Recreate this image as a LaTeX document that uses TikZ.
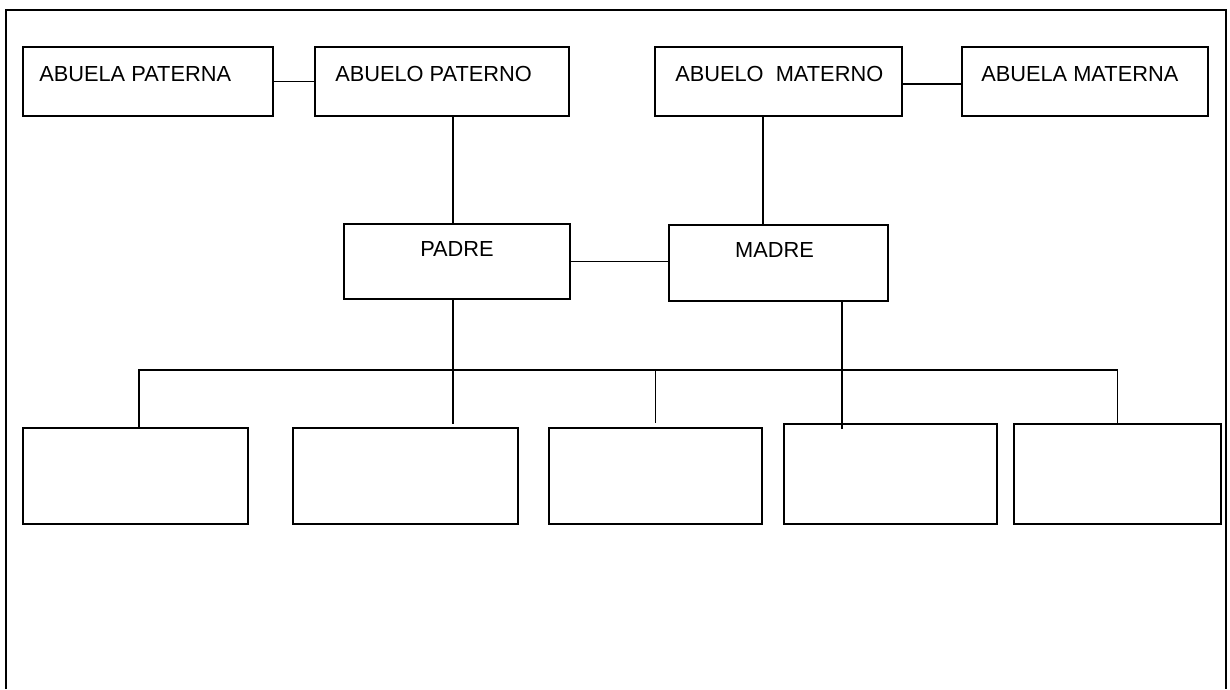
\documentclass[tikz,border=0pt]{standalone}
\usepackage{fontspec}
\setmainfont{Liberation Sans}
\usepackage{tikz}
\usetikzlibrary{positioning}
\tikzset{
    persona/.style = {rectangle, draw=black, line width=1.9pt, minimum width=#1, minimum height=69pt, inner sep=0pt},
    padres/.style = {rectangle, draw=black, line width=1.9pt, minimum width=#1, minimum height=75pt, inner sep=0pt},
    hijo/.style = {rectangle, draw=black, line width=1.9pt, minimum width=#1, minimum height=96pt, inner sep=0pt},
    rotulo/.style = {inner sep=0pt, font=\fontsize{21.8}{26}\selectfont},
    linea/.style = {line width=1.9pt, black},
    marco/.style = {line width=2.4pt, black}
}
\begin{document}
\begin{tikzpicture}[x=1pt,y=-1pt]
\useasboundingbox (0,0) rectangle (1230,689);
\draw[marco] (6,689) |- (1226,10) -- (1226,689);
% abuelos
\node[persona=250pt, label={[rotulo,anchor=base west,xshift=17pt,yshift=-35pt]north west:ABUELA PATERNA}] at (148, 81.5) (abp) {};
\node[persona=254pt, label={[rotulo,anchor=base west,xshift=21pt,yshift=-35pt]north west:ABUELO PATERNO}] at (442, 81.5) (ap) {};
\node[persona=247pt, label={[rotulo,anchor=base west,xshift=21pt,yshift=-35pt]north west:ABUELO\ \ MATERNO}] at (778.5, 81.5) (am) {};
\node[persona=246pt, label={[rotulo,anchor=base west,xshift=20pt,yshift=-35pt]north west:ABUELA MATERNA}] at (1085, 81.5) (abm) {};
% padres
\node[padres=226pt, label={[rotulo,anchor=base,yshift=-33pt]north:PADRE}] at (457, 261.5) (padre) {};
\node[padres=219pt, minimum height=76pt, label={[rotulo,anchor=base,xshift=-4pt,yshift=-33pt]north:MADRE}] at (778.5, 263) (madre) {};
% hijos
\node[hijo=225pt] at (135.5, 476) (h1) {};
\node[hijo=225pt] at (405.5, 476) (h2) {};
\node[hijo=213pt] at (655.5, 476) (h3) {};
\node[hijo=213pt, minimum height=100pt] at (890.5, 474) (h4) {};
\node[hijo=207pt, minimum height=100pt] at (1117.5, 474) (h5) {};
\coordinate (barra) at (0, 370);
%
\draw[linea] (abp) -- (ap);
\draw[linea] (am.east |- 0,84) -- (abm.west |- 0,84);
\draw[linea] ([xshift=-4pt]padre.north) -- ([xshift=-4pt]padre.north |- ap.south);
\draw[linea] ([xshift=-15.5pt]madre.north) -- ([xshift=-15.5pt]madre.north |- am.south);
\draw[linea] (padre.east) -- (padre.east -| madre.west);
\draw[linea] ([xshift=-4pt]padre.south) -- ++(0,124);
\draw[linea] ([xshift=63.5pt]madre.south) -- ++(0,127);
\draw[linea] ([xshift=3.5pt]h1.north) |- (barra -| h5.north) -- (h5.north);
\draw[linea] (h3.north |- barra) -- ++(0,53);

\end{tikzpicture}
\end{document}
